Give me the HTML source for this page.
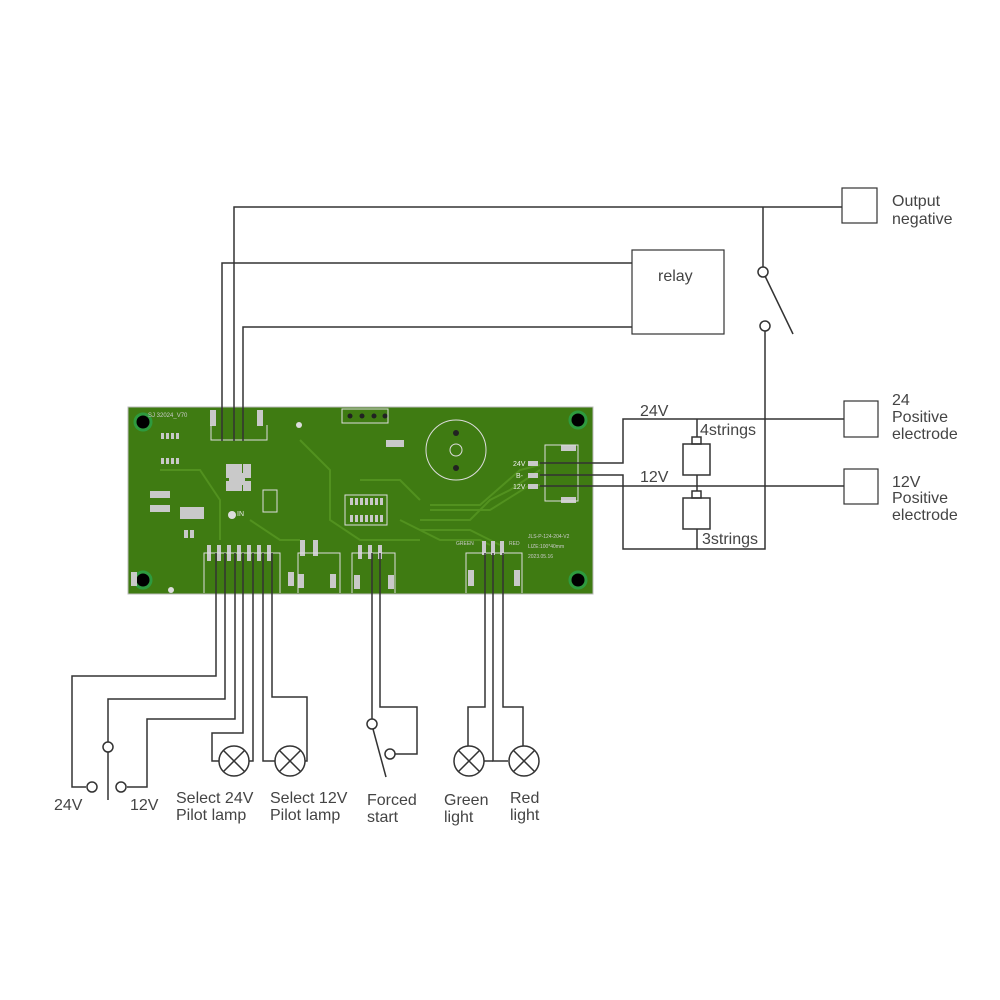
<!DOCTYPE html>
<html><head><meta charset="utf-8"><style>
html,body{margin:0;padding:0;background:#fff}
svg{display:block}
text{font-family:"Liberation Sans","DejaVu Sans",sans-serif;fill:#444}
</style></head><body>
<svg width="1000" height="1000" viewBox="0 0 1000 1000" xmlns="http://www.w3.org/2000/svg">
<!-- PCB -->
<rect x="128" y="407" width="465" height="187" fill="#3f7b12" stroke="#bbb" stroke-width="1"/>
<g fill="none" stroke="#52911f" stroke-width="2">
<path d="M300 440 L330 470 L330 520 L360 540 L420 540"/>
<path d="M420 520 L470 520 L490 500 L510 490 L540 470"/>
<path d="M430 505 L480 505 L520 470 L540 465"/>
<path d="M430 510 L490 510 L530 485 L540 485"/>
<path d="M160 470 L200 470 L220 500 L220 540"/>
<path d="M400 520 L440 540 L480 540 L490 545"/>
<path d="M420 530 L470 530 L500 545"/>
<path d="M250 520 L280 540 L300 540"/>
<path d="M360 480 L400 480 L420 500"/>
</g>
<g fill="#000" stroke="#2e9a3e" stroke-width="3">
<circle cx="143" cy="422" r="8"/><circle cx="578" cy="420" r="8"/>
<circle cx="143" cy="580" r="8"/><circle cx="578" cy="580" r="8"/>
</g>
<g fill="#c9c9c9">
<rect x="161" y="433" width="3" height="6"/><rect x="166" y="433" width="3" height="6"/><rect x="171" y="433" width="3" height="6"/><rect x="176" y="433" width="3" height="6"/>
<rect x="161" y="458" width="3" height="6"/><rect x="166" y="458" width="3" height="6"/><rect x="171" y="458" width="3" height="6"/><rect x="176" y="458" width="3" height="6"/>
<rect x="150" y="491" width="20" height="7"/><rect x="150" y="505" width="20" height="7"/>
<rect x="180" y="507" width="24" height="12"/>
<rect x="226" y="464" width="16" height="14"/><rect x="226" y="481" width="16" height="10"/>
<rect x="243" y="464" width="8" height="14"/><rect x="243" y="481" width="8" height="10"/>
<rect x="184" y="530" width="4" height="8"/><rect x="190" y="530" width="4" height="8"/>
<rect x="350" y="498" width="3" height="7"/><rect x="355" y="498" width="3" height="7"/><rect x="360" y="498" width="3" height="7"/><rect x="365" y="498" width="3" height="7"/><rect x="370" y="498" width="3" height="7"/><rect x="375" y="498" width="3" height="7"/><rect x="380" y="498" width="3" height="7"/>
<rect x="350" y="515" width="3" height="7"/><rect x="355" y="515" width="3" height="7"/><rect x="360" y="515" width="3" height="7"/><rect x="365" y="515" width="3" height="7"/><rect x="370" y="515" width="3" height="7"/><rect x="375" y="515" width="3" height="7"/><rect x="380" y="515" width="3" height="7"/>
<rect x="386" y="440" width="18" height="7"/>
<rect x="207" y="545" width="4" height="16"/><rect x="217" y="545" width="4" height="16"/><rect x="227" y="545" width="4" height="16"/><rect x="237" y="545" width="4" height="16"/><rect x="247" y="545" width="4" height="16"/><rect x="257" y="545" width="4" height="16"/><rect x="267" y="545" width="4" height="16"/>
<rect x="210" y="410" width="6" height="16"/><rect x="257" y="410" width="6" height="16"/>
<rect x="131" y="572" width="6" height="14"/><rect x="288" y="572" width="6" height="14"/>
<rect x="300" y="540" width="5" height="16"/><rect x="313" y="540" width="5" height="16"/>
<rect x="298" y="574" width="6" height="14"/><rect x="330" y="574" width="6" height="14"/>
<rect x="358" y="545" width="4" height="14"/><rect x="368" y="545" width="4" height="14"/><rect x="378" y="545" width="4" height="14"/>
<rect x="354" y="575" width="6" height="14"/><rect x="388" y="575" width="6" height="14"/>
<rect x="482" y="541" width="4" height="14"/><rect x="491" y="541" width="4" height="14"/><rect x="500" y="541" width="4" height="14"/>
<rect x="468" y="570" width="6" height="16"/><rect x="514" y="570" width="6" height="16"/>
<rect x="528" y="461" width="10" height="5"/><rect x="528" y="473" width="10" height="5"/><rect x="528" y="484" width="10" height="5"/>
<rect x="561" y="445" width="15" height="6"/><rect x="561" y="497" width="15" height="6"/>
<rect x="229" y="473" width="16" height="12"/>
</g>
<g fill="none" stroke="#ddd" stroke-width="1">
<circle cx="456" cy="450" r="30"/>
<circle cx="456" cy="450" r="6"/>
<rect x="545" y="445" width="33" height="56"/>
<rect x="342" y="409" width="46" height="14"/>
<rect x="345" y="495" width="42" height="30"/>
<path d="M211 425 V440 H267 V425"/>
<path d="M204 593 V553 H280 V593"/>
<path d="M298 593 V553 H340 V593"/>
<path d="M352 593 V553 H395 V593"/>
<path d="M466 593 V553 H522 V593"/>
<rect x="263" y="490" width="14" height="22"/>
</g>
<g fill="#222"><circle cx="350" cy="416" r="2.5"/><circle cx="362" cy="416" r="2.5"/><circle cx="374" cy="416" r="2.5"/><circle cx="385" cy="416" r="2.5"/><circle cx="456" cy="433" r="3"/><circle cx="456" cy="468" r="3"/></g>
<g fill="#ddd"><circle cx="232" cy="515" r="4"/><circle cx="171" cy="590" r="3"/><circle cx="299" cy="425" r="3"/></g>
<g>
<text x="148" y="417" style="fill:#ccc" font-size="6">SJ 32024_V70</text>
<text x="237" y="516" style="fill:#eee" font-size="7">IN</text>
<text x="513" y="466" style="fill:#eee" font-size="7">24V</text>
<text x="516" y="478" style="fill:#eee" font-size="7">B-</text>
<text x="513" y="489" style="fill:#eee" font-size="7">12V</text>
<text x="528" y="538" style="fill:#ccc" font-size="5">JLS-P-124-204-V2</text>
<text x="528" y="548" style="fill:#ccc" font-size="5">LIZE:100*40mm</text>
<text x="528" y="558" style="fill:#ccc" font-size="5">2023.05.16</text>
<text x="456" y="545" style="fill:#ccc" font-size="5">GREEN</text>
<text x="509" y="545" style="fill:#ccc" font-size="5">RED</text>
</g>

<!-- wiring -->
<g fill="none" stroke="#333" stroke-width="1.5">
<path d="M234 441 V207 H842"/>
<path d="M222 441 V263 H632"/>
<path d="M243 441 V327 H632"/>
<rect x="632" y="250" width="92" height="84" stroke-width="1.2"/>
<rect x="842" y="188" width="35" height="35" stroke-width="1.2"/>
<path d="M763 207 V267"/>
<circle cx="763" cy="272" r="5" fill="#fff"/>
<path d="M765 276 L793 334"/>
<circle cx="765" cy="326" r="5" fill="#fff"/>
<path d="M765 331 V549 H623 V475 H540"/>
<path d="M540 463 H623 V419 H844"/>
<path d="M540 486 H844"/>
<rect x="844" y="401" width="34" height="36" stroke-width="1.2"/>
<rect x="844" y="469" width="34" height="35" stroke-width="1.2"/>
<path d="M697 419 V437"/>
<rect x="692" y="437" width="9" height="7"/>
<rect x="683" y="444" width="27" height="31"/>
<path d="M697 475 V491"/>
<rect x="692" y="491" width="9" height="7"/>
<rect x="683" y="498" width="27" height="31"/>
<path d="M697 529 V549"/>

<path d="M216 553 V676 H72 V787 H86"/>
<circle cx="92" cy="787" r="5" fill="#fff"/>
<path d="M225 553 V699 H108 V742"/>
<circle cx="108" cy="747" r="5" fill="#fff"/>
<path d="M108 752 V800"/>
<path d="M235 553 V719 H147 V787 H127"/>
<circle cx="121" cy="787" r="5" fill="#fff"/>
<path d="M243 553 V733 H212 V761 H219"/>
<path d="M253 553 V761 H249"/>
<path d="M263 553 V761 H275"/>
<path d="M272 553 V697 H307 V761 H305"/>
<circle cx="234" cy="761" r="15" fill="#fff"/>
<path d="M223 750 L245 772 M245 750 L223 772"/>
<circle cx="290" cy="761" r="15" fill="#fff"/>
<path d="M279 750 L301 772 M301 750 L279 772"/>

<path d="M372 553 V719"/>
<circle cx="372" cy="724" r="5" fill="#fff"/>
<path d="M373 729 L386 777"/>
<path d="M380 553 V707 H417 V754 H395"/>
<circle cx="390" cy="754" r="5" fill="#fff"/>

<path d="M485 553 V707 H468 V746"/>
<path d="M493 553 V761 H508"/>
<path d="M484 761 H493"/>
<path d="M503 553 V707 H523 V746"/>
<circle cx="469" cy="761" r="15" fill="#fff"/>
<path d="M458 750 L480 772 M480 750 L458 772"/>
<circle cx="524" cy="761" r="15" fill="#fff"/>
<path d="M513 750 L535 772 M535 750 L513 772"/>
</g>

<g font-size="16">
<text x="658" y="281">relay</text>
<text x="892" y="206">Output</text>
<text x="892" y="224">negative</text>
<text x="892" y="405">24</text>
<text x="892" y="422">Positive</text>
<text x="892" y="439">electrode</text>
<text x="892" y="487">12V</text>
<text x="892" y="503">Positive</text>
<text x="892" y="520">electrode</text>
<text x="640" y="416">24V</text>
<text x="700" y="435">4strings</text>
<text x="640" y="482">12V</text>
<text x="702" y="544">3strings</text>
<text x="54" y="810">24V</text>
<text x="130" y="810">12V</text>
<text x="176" y="803">Select 24V</text>
<text x="176" y="820">Pilot lamp</text>
<text x="270" y="803">Select 12V</text>
<text x="270" y="820">Pilot lamp</text>
<text x="367" y="805">Forced</text>
<text x="367" y="822">start</text>
<text x="444" y="805">Green</text>
<text x="444" y="822">light</text>
<text x="510" y="803">Red</text>
<text x="510" y="820">light</text>
</g>
</svg>
</body></html>
